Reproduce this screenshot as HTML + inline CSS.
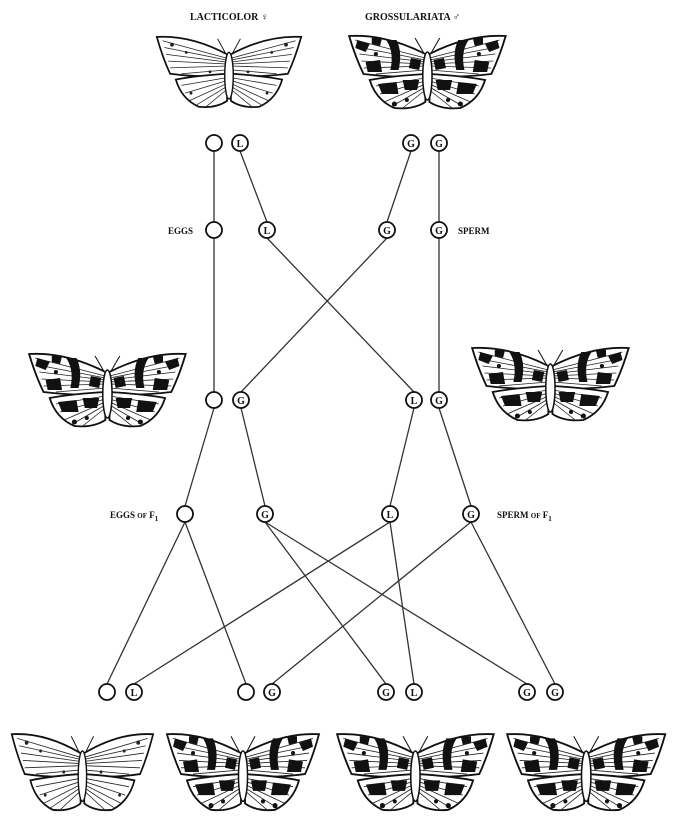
<!DOCTYPE html>
<html><head><meta charset="utf-8"><style>
html,body{margin:0;padding:0;background:#fff;}
svg{display:block;}
text{font-family:"Liberation Serif",serif;font-weight:bold;fill:#111;}
</style></head><body>
<svg width="678" height="825" viewBox="0 0 678 825" xmlns="http://www.w3.org/2000/svg">
<defs>
<g id="wings">
  <path d="M78,22 Q40,2 4,4 Q10,25 18,42 Q50,46 78,44 Z" fill="#fff" stroke="#111" stroke-width="1.8"/>
  <path d="M82,22 Q120,2 156,4 Q150,25 142,42 Q110,46 82,44 Z" fill="#fff" stroke="#111" stroke-width="1.8"/>
  <path d="M78,42 Q45,44 24,48 Q30,68 48,76 Q66,78 78,70 Z" fill="#fff" stroke="#111" stroke-width="1.8"/>
  <path d="M82,42 Q115,44 136,48 Q130,68 112,76 Q94,78 82,70 Z" fill="#fff" stroke="#111" stroke-width="1.8"/>
  <g stroke="#222" stroke-width="0.8" fill="none">
    <path d="M78,26 L10,8 M78,28 L12,15 M78,30 L14,22 M78,32 L16,29 M78,34 L18,36 M78,38 L30,42 M78,46 L30,54 M78,49 L34,62 M78,52 L38,70 M78,55 L46,74 M78,58 L56,76"/>
    <path d="M82,26 L150,8 M82,28 L148,15 M82,30 L146,22 M82,32 L144,29 M82,34 L142,36 M82,38 L130,42 M82,46 L130,54 M82,49 L126,62 M82,52 L122,70 M82,55 L114,74 M82,58 L104,76"/>
  </g>
  <ellipse cx="80" cy="44" rx="4.5" ry="24" fill="#fff" stroke="#111" stroke-width="1.5"/>
  <path d="M77,22 L68,6 M83,22 L92,6" stroke="#111" stroke-width="1"/>
</g>
<g id="light">
  <use href="#wings"/>
  <g fill="#222">
    <circle cx="20" cy="12" r="2"/><circle cx="35" cy="20" r="1.5"/><circle cx="60" cy="40" r="1.5"/>
    <circle cx="140" cy="12" r="2"/><circle cx="125" cy="20" r="1.5"/><circle cx="100" cy="40" r="1.5"/>
    <circle cx="40" cy="62" r="1.5"/><circle cx="120" cy="62" r="1.5"/>
  </g>
</g>
<g id="dark">
  <use href="#wings"/>
  <g fill="#111">
    <path d="M40,8 Q48,20 44,38 L52,38 Q56,20 50,8Z"/>
    <path d="M120,8 Q112,20 116,38 L108,38 Q104,20 110,8Z"/>
    <path d="M12,8 L24,12 L20,20 L10,16Z"/><path d="M148,8 L136,12 L140,20 L150,16Z"/>
    <path d="M20,30 L34,28 L36,40 L22,40Z"/><path d="M140,30 L126,28 L124,40 L138,40Z"/>
    <path d="M64,26 L74,28 L72,38 L62,36Z"/><path d="M96,26 L86,28 L88,38 L98,36Z"/>
    <path d="M32,52 L50,50 L52,62 L36,62Z"/><path d="M128,52 L110,50 L108,62 L124,62Z"/>
    <path d="M56,48 L72,48 L70,58 L58,58Z"/><path d="M104,48 L88,48 L90,58 L102,58Z"/>
    <path d="M26,6 L36,6 L34,14 L26,12Z"/><path d="M134,6 L124,6 L126,14 L134,12Z"/>
    <circle cx="48" cy="72" r="2.5"/><circle cx="112" cy="72" r="2.5"/>
    <circle cx="30" cy="22" r="2"/><circle cx="130" cy="22" r="2"/>
    <circle cx="60" cy="68" r="2"/><circle cx="100" cy="68" r="2"/>
  </g>
</g>
</defs>

<text x="190" y="20" font-size="10">LACTICOLOR ♀</text>
<text x="365" y="20" font-size="10">GROSSULARIATA ♂</text>

<use href="#light" transform="translate(153,33) scale(0.95,0.97)"/>
<use href="#dark" transform="translate(345,32) scale(1.03,1.0)"/>
<use href="#dark" transform="translate(25,350) scale(1.03,1.0)"/>
<use href="#dark" transform="translate(468,344) scale(1.03,1.0)"/>
<use href="#light" transform="translate(8,730) scale(0.93,1.05)"/>
<use href="#dark" transform="translate(163,730) scale(1.0,1.05)"/>
<use href="#dark" transform="translate(333,730) scale(1.03,1.05)"/>
<use href="#dark" transform="translate(503,730) scale(1.04,1.05)"/>

<g stroke="#333" stroke-width="1.3" fill="none">
<path d="M214,151 L214,222 M240,151 L267,222 M411,151 L387,222 M439,151 L439,222"/>
<path d="M214,238 L214,392 M267,238 L414,392 M387,238 L241,392 M439,238 L439,392"/>
<path d="M214,408 L185,506 M241,408 L265,506 M414,408 L390,506 M439,408 L471,506"/>
<path d="M185,522 L107,684 M185,522 L246,684 M265,522 L386,684 M265,522 L527,684 M390,522 L134,684 M390,522 L414,684 M471,522 L272,684 M471,522 L555,684"/>
</g>

<g fill="#fff" stroke="#111" stroke-width="1.8">
<circle cx="214" cy="143" r="8"/><circle cx="240" cy="143" r="8"/><circle cx="411" cy="143" r="8"/><circle cx="439" cy="143" r="8"/>
<circle cx="214" cy="230" r="8"/><circle cx="267" cy="230" r="8"/><circle cx="387" cy="230" r="8"/><circle cx="439" cy="230" r="8"/>
<circle cx="214" cy="400" r="8"/><circle cx="241" cy="400" r="8"/><circle cx="414" cy="400" r="8"/><circle cx="439" cy="400" r="8"/>
<circle cx="185" cy="514" r="8"/><circle cx="265" cy="514" r="8"/><circle cx="390" cy="514" r="8"/><circle cx="471" cy="514" r="8"/>
<circle cx="107" cy="692" r="8"/><circle cx="134" cy="692" r="8"/><circle cx="246" cy="692" r="8"/><circle cx="272" cy="692" r="8"/>
<circle cx="386" cy="692" r="8"/><circle cx="414" cy="692" r="8"/><circle cx="527" cy="692" r="8"/><circle cx="555" cy="692" r="8"/>
</g>
<g font-size="10" text-anchor="middle">
<text x="240" y="147" font-family="Liberation Sans">L</text><text x="411" y="147" font-family="Liberation Sans">G</text><text x="439" y="147" font-family="Liberation Sans">G</text>
<text x="267" y="234" font-family="Liberation Sans">L</text><text x="387" y="234" font-family="Liberation Sans">G</text><text x="439" y="234" font-family="Liberation Sans">G</text>
<text x="241" y="404" font-family="Liberation Sans">G</text><text x="414" y="404" font-family="Liberation Sans">L</text><text x="439" y="404" font-family="Liberation Sans">G</text>
<text x="265" y="518" font-family="Liberation Sans">G</text><text x="390" y="518" font-family="Liberation Sans">L</text><text x="471" y="518" font-family="Liberation Sans">G</text>
<text x="134" y="696" font-family="Liberation Sans">L</text><text x="272" y="696" font-family="Liberation Sans">G</text><text x="386" y="696" font-family="Liberation Sans">G</text>
<text x="414" y="696" font-family="Liberation Sans">L</text><text x="527" y="696" font-family="Liberation Sans">G</text><text x="555" y="696" font-family="Liberation Sans">G</text>
</g>

<text x="168" y="234" font-size="9">EGGS</text>
<text x="458" y="234" font-size="9">SPERM</text>
<text x="110" y="518" font-size="9">EGGS <tspan font-size="7">OF</tspan> F<tspan font-size="7" dy="3">1</tspan></text>
<text x="497" y="518" font-size="9">SPERM <tspan font-size="7">OF</tspan> F<tspan font-size="7" dy="3">1</tspan></text>
</svg>
</body></html>
